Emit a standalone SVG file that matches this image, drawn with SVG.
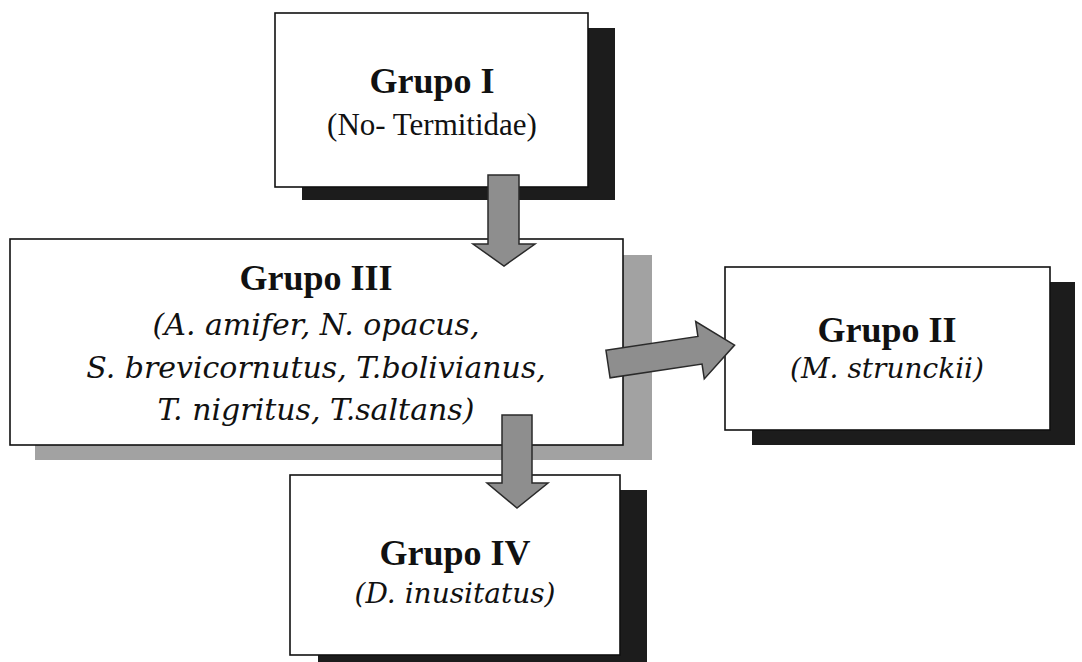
<svg xmlns="http://www.w3.org/2000/svg" width="1082" height="662" viewBox="0 0 1082 662">
<style>
.box{fill:#ffffff;stroke:#111;stroke-width:1.6}
.sh{fill:#1c1c1c}
.shg{fill:#a2a2a2}
.arr{fill:#8e8e8e;stroke:#2a2a2a;stroke-width:1.5;stroke-linejoin:miter}
.h{font-family:"Liberation Serif","Times New Roman",serif;font-weight:bold;font-size:36px;fill:#111;text-anchor:middle}
.r{font-family:"Liberation Serif","Times New Roman",serif;font-size:31px;fill:#111;text-anchor:middle}
.i{font-family:"DejaVu Serif",serif;font-style:italic;font-size:28px;fill:#111;text-anchor:middle}
.i3{font-size:30px}
</style>
<rect width="1082" height="662" fill="#ffffff"/>
<g id="grupo1">
<rect class="sh" x="302" y="28" width="313" height="172"/>
<rect class="box" x="275" y="13" width="313" height="174"/>
<text class="h" x="432" y="93">Grupo I</text>
<text class="r" x="432" y="135">(No- Termitidae)</text>
</g>
<g id="grupo3">
<rect class="shg" x="35" y="255" width="617" height="205"/>
<rect class="box" x="10" y="239" width="613" height="206"/>
<text class="h" x="316" y="290">Grupo III</text>
<text class="i i3" x="316" y="335">(A. amifer, N. opacus,</text>
<text class="i i3" x="316" y="378">S. brevicornutus, T.bolivianus,</text>
<text class="i i3" x="316" y="420">T. nigritus, T.saltans)</text>
</g>
<g id="grupo2">
<rect class="sh" x="752" y="282" width="323" height="163"/>
<rect class="box" x="725" y="267" width="325" height="163"/>
<text class="h" x="887" y="342">Grupo II</text>
<text class="i" x="887" y="378">(M. strunckii)</text>
</g>
<g id="grupo4">
<rect class="sh" x="318" y="490" width="329" height="172"/>
<rect class="box" x="290" y="475" width="330" height="180"/>
<text class="h" x="455" y="565">Grupo IV</text>
<text class="i" x="455" y="603">(D. inusitatus)</text>
</g>
<g id="connectors">
<path class="arr" d="M488,175 L519,175 L519,244 L535,244 L504,266 L473,244 L488,244 Z"/>
<path class="arr" transform="translate(608,364) rotate(-8.5)" d="M0,-14 L93,-14 L93,-29 L128,0 L93,29 L93,14 L0,14 Z"/>
<path class="arr" d="M502,415 L532,415 L532,483 L548,483 L517,508 L487,483 L502,483 Z"/>
</g>
</svg>
